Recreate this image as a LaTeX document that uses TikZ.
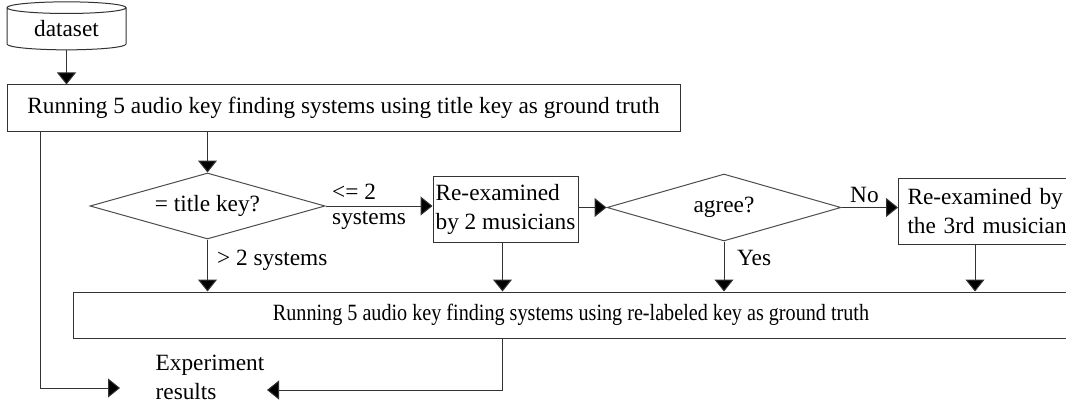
\documentclass[tikz,border=0pt]{standalone}
\usepackage{fontspec}
\setmainfont{Liberation Serif}
\usepackage{tikz}
\usetikzlibrary{shapes.geometric,arrows.meta}
\tikzset{>={Triangle[width=19pt,length=12pt,fill=black]}}
\tikzset{
	box/.style={draw=black!80,line width=1pt,rectangle,inner sep=0pt},
	decision/.style={draw=black!70,line width=1pt,diamond,inner sep=0pt,aspect=3.55},
	flow/.style={->,line width=1pt,draw=black!80},
	lbl/.style={inner sep=0pt,anchor=west}
}

\begin{document}
\begin{tikzpicture}[x=1pt,y=-1pt,font=\fontsize{23.3}{29}\selectfont]
	\useasboundingbox (0,0) rectangle (1066,404);

	\node[draw=black!80,line width=1pt,cylinder,shape border rotate=90,aspect=0.18,minimum width=119pt,minimum height=48pt,inner sep=0pt] (data) at (66.5,29) {dataset};
	\node[box,minimum width=673pt,minimum height=46pt] (top) at (343.5,108) {Running 5 audio key finding systems using title key as ground truth};

	\node[decision,minimum width=235pt,minimum height=66pt] (eq) at (207.5,206) {= title key?};
	\node[box,minimum width=145pt,minimum height=66pt,align=left] (exam) at (505.5,209.5) {Re-examined\\by 2 musicians};
	\node[decision,minimum width=234pt,minimum height=67pt] (agree) at (724,207.5) {agree?};
	\node[box,anchor=west,inner xsep=9pt,text width=170pt,minimum height=66pt,align=left] (third) at (898,211) {Re-examined by\\the 3rd musician};

	\node[box,minimum width=996pt,minimum height=46pt] (rerun) at (571,315) {\scalebox{0.865}[1]{Running 5 audio key finding systems using re-labeled key as ground truth}};
	\node[inner sep=0pt,align=left] (results) at (210,377.5) {Experiment\\results};
	\coordinate (resL) at (120,388);
	\coordinate (resR) at (267,390);

	% branch labels
	\node[lbl] (few) at (332,192) {<= 2};
	\node[lbl] (fewsys) at (332,220) {systems};
	\node[lbl] (many) at (217,260) {> 2 systems};
	\node[lbl] (no) at (850,195) {No};
	\node[lbl] (yes) at (737,258) {Yes};

	\draw[flow] (data.south) -- (data.south |- top.north);
	\draw[flow] (top.south -| eq.north) -- (eq.north);
	\draw[flow] (eq.east) -- (eq.east -| exam.west);
	\draw[flow] (exam.east |- agree.west) -- (agree.west);
	\draw[flow] (agree.east) -- (agree.east -| third.west);
	\draw[flow] (eq.south) -- (eq.south |- rerun.north);
	\draw[flow] ([xshift=-3pt]exam.south) -- ([xshift=-3pt]exam.south |- rerun.north);
	\draw[flow] (agree.south) -- (agree.south |- rerun.north);
	\draw[flow] ([xshift=77pt]third.south west) -- ([xshift=77pt]third.south west |- rerun.north);
	\draw[flow] ([xshift=34pt]top.south west) |- (resL);
	\draw[flow] ([xshift=-69pt]rerun.south) |- (resR);
\end{tikzpicture}
\end{document}
